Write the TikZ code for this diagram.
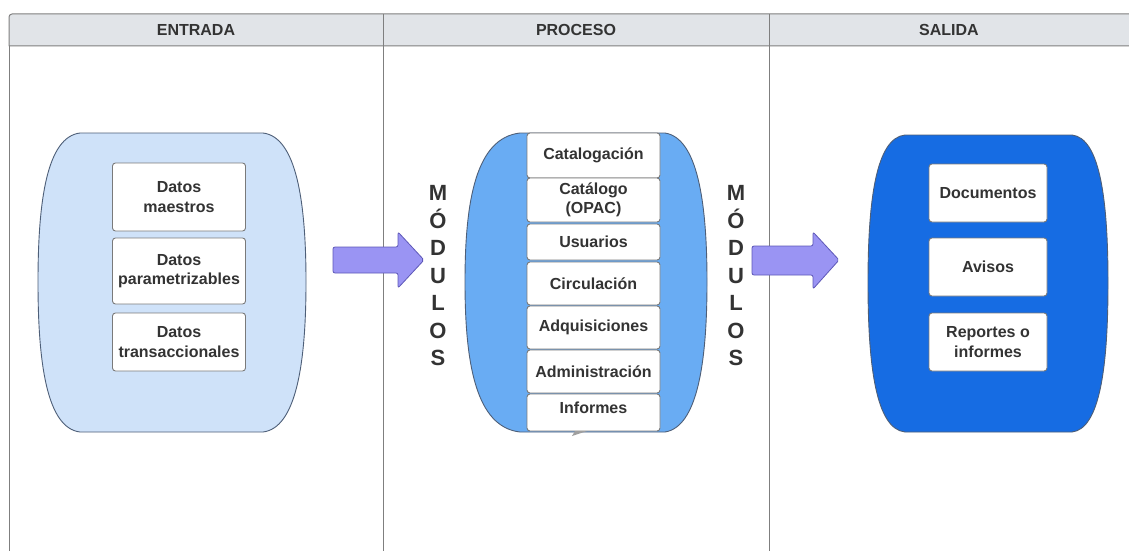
\documentclass[tikz,border=0pt]{standalone}
\usepackage{fontspec}
\setmainfont{Liberation Sans}
\definecolor{hdrfill}{HTML}{E1E4E8}
\definecolor{tline}{HTML}{7F7F7F}
\definecolor{txt}{HTML}{333333}
\definecolor{boxline}{HTML}{7A7A7A}
\definecolor{barrelline}{HTML}{4E5F78}
\definecolor{lightblue}{HTML}{CFE2F9}
\definecolor{midblue}{HTML}{69ACF3}
\definecolor{strongblue}{HTML}{166CE3}
\definecolor{arrowfill}{HTML}{9A94F3}
\definecolor{arrowline}{HTML}{5E58B8}
\begin{document}
\begin{tikzpicture}[x=1pt,y=-1pt,line join=round,
  lbl/.style={font=\fontsize{16}{19.5}\selectfont\bfseries,text=txt,align=center},
  box/.style={draw=boxline,fill=white,rounded corners=3pt,line width=0.9pt,lbl,inner sep=0pt},
  hdr/.style={font=\fontsize{16}{18}\selectfont\bfseries,text=txt},
  mod/.style={font=\fontsize{22}{27.5}\selectfont\bfseries,text=txt,align=center,inner sep=0pt},
  barrel/.style={draw=barrelline,line width=0.9pt},
  blockarrow/.style={fill=arrowfill,draw=arrowline,line width=0.8pt,rounded corners=2pt}]
\useasboundingbox (0,0) rectangle (1129,551);
\fill[white] (0,0) rectangle (1129,551);
% table
\filldraw[fill=hdrfill,draw=tline,line width=1pt] (9,46) [rounded corners=3pt]-- (9,14) [sharp corners]-- (1135,14) -- (1135,46) -- cycle;
\draw[tline,line width=1pt] (9,46) -- (9,555) (383,14) -- (383,555) (769,14) -- (769,555);
\node[hdr] (hin) at (196,30) {ENTRADA};
\node[hdr] (hpr) at (576,30) {PROCESO};
\node[hdr] (hout) at (949,30) {SALIDA};
% left barrel
\path[barrel,fill=lightblue] (80,133) -- (263,133) .. controls (296,137) and (306,200) .. (306,282) .. controls (306,364) and (296,428) .. (263,432) -- (80,432) .. controls (47,428) and (38,364) .. (38,282) .. controls (38,200) and (47,137) .. (80,133) -- cycle;
\node[box,minimum width=133,minimum height=68] (dm) at (179,197) {Datos\\maestros};
\node[box,minimum width=133,minimum height=66] (dp) at (179,271) {Datos\\parametrizables};
\node[box,minimum width=133,minimum height=58] (dt) at (179,342) {Datos\\transaccionales};
% arrow 1
\path[blockarrow] (333,247) -- (398,247) -- (398,232) -- (424,260) -- (398,288) -- (398,273) -- (333,273) -- cycle;
\coordinate (a1) at (424,260);
% middle barrel
\path[barrel,fill=midblue] (520,133) -- (665,133) .. controls (697,138) and (707,200) .. (707,282) .. controls (707,364) and (697,427) .. (665,432) -- (520,432) .. controls (476,427) and (465,364) .. (465,282) .. controls (465,200) and (476,138) .. (520,133) -- cycle;
\node[mod] (modL) at (438,276) {M\\Ó\\D\\U\\L\\O\\S};
\node[mod] (modR) at (736,276) {M\\Ó\\D\\U\\L\\O\\S};
\node[box,minimum width=133,minimum height=45] (m1) at (593.5,155.5) {Catalogación};
\node[box,minimum width=133,minimum height=44] (m2) at (593.5,200) {Catálogo\\(OPAC)};
\node[box,minimum width=133,minimum height=36] (m3) at (593.5,242) {Usuarios};
\node[box,minimum width=133,minimum height=43] (m4) at (593.5,283.5) {Circulación};
\node[box,minimum width=133,minimum height=43] (m5) at (593.5,327.5) {Adquisiciones};
\node[box,minimum width=133,minimum height=43] (m6) at (593.5,371.5) {Administración};
\node[box,minimum width=133,minimum height=37,text depth=10pt] (m7) at (593.5,412.5) {Informes};
\fill[gray!75] (572,436) -- (587,431) -- (575,431) -- cycle;
% arrow 2
\path[blockarrow] (752,246) -- (813,246) -- (813,232) -- (839,260) -- (813,289) -- (813,275) -- (752,275) -- cycle;
\coordinate (a2) at (839,260);
% right barrel
\path[barrel,fill=strongblue] (905,135) -- (1072,135) .. controls (1100,138) and (1108,200) .. (1108,283) .. controls (1108,366) and (1100,429) .. (1072,432) -- (905,432) .. controls (876,429) and (868,366) .. (868,283) .. controls (868,200) and (876,138) .. (905,135) -- cycle;
\node[box,minimum width=118,minimum height=58] (o1) at (988,193) {Documentos};
\node[box,minimum width=118,minimum height=58] (o2) at (988,267) {Avisos};
\node[box,minimum width=118,minimum height=58] (o3) at (988,342) {Reportes o\\informes};
\end{tikzpicture}
\end{document}
